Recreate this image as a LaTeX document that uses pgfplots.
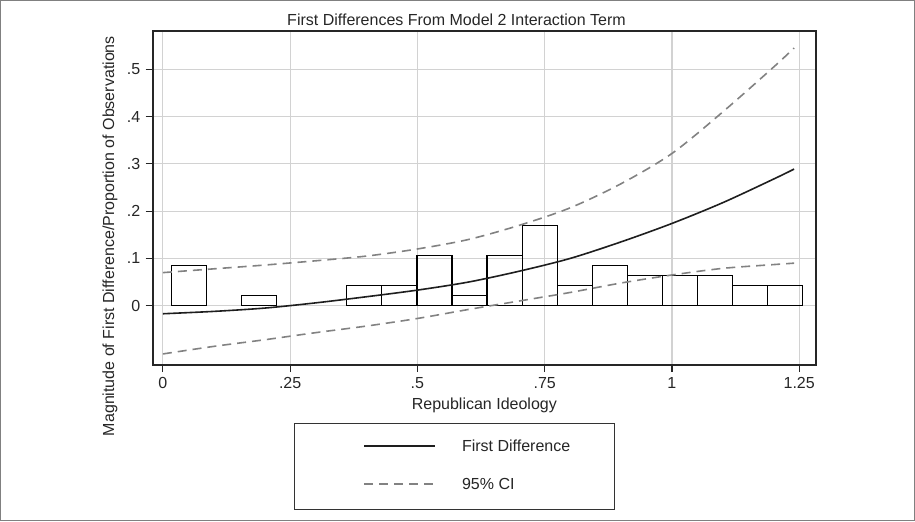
\documentclass[border=0pt]{standalone}
\usepackage{pgfplots}
\pgfplotsset{compat=1.18}
\usepackage{fontspec}
\setmainfont{Liberation Sans}
\definecolor{gridgray}{RGB}{210,210,210}
\definecolor{dashgray}{RGB}{130,130,130}
\definecolor{linedark}{RGB}{30,30,30}
\newcommand{\ef}{\fontsize{8}{9.6}\selectfont}
\begin{document}
\begin{tikzpicture}
\useasboundingbox (0,0) rectangle (457.5pt,260.5pt);
\draw[gray, line width=0.5pt] (0.25pt,0.25pt) rectangle (457.25pt,260.25pt);
\begin{axis}[
  at={(76.35pt,78pt)}, anchor=south west,
  scale only axis, width=331.65pt, height=167pt,
  xmin=-0.020, xmax=1.283, ymin=-0.1254, ymax=0.581,
  axis line style={line width=0.9pt, black!85},
  xtick={0,0.25,0.5,0.75,1,1.25},
  xticklabels={0,.25,.5,.75,1,1.25},
  ytick={0,0.1,0.2,0.3,0.4,0.5},
  yticklabels={0,.1,.2,.3,.4,.5},
  tick align=outside, tick pos=left,
  major tick length=3.5pt,
  tick style={black!85, line width=0.6pt},
  grid=major,
  major grid style={gridgray, line width=0.6pt},
  tick label style={font=\ef, text=black!85},
  xticklabel style={inner sep=2.5pt},
  yticklabel style={inner sep=2.5pt},
  title={First Differences From Model 2 Interaction Term},
  title style={font=\ef, text=black!85, at={(axis description cs:0.458,1.018)}, anchor=base, yshift=-6.5pt},
  xlabel={Republican Ideology},
  xlabel style={font=\ef, text=black!85, at={(axis description cs:0.5,-0.1347)}, anchor=base},
  ylabel={Magnitude of First Difference/Proportion of Observations},
  ylabel style={font=\ef, text=black!85, at={(axis description cs:-0.0644,0.386)}, anchor=center},
  legend style={at={(axis description cs:0.213,-0.1737)}, anchor=north west,
    draw=black!80, line width=0.7pt, inner xsep=22pt, inner ysep=8pt,
    font=\ef, text=black!85, row sep=11pt, column sep=13.3pt,
    nodes={inner sep=0pt, text height=6pt, text depth=2pt, anchor=base west}},
  legend cell align=left,
  legend image code/.code={\path (0pt,0pt); \draw[#1] (12.3pt,2.9pt) -- (47.6pt,2.9pt);},
]
% histogram (proportion of observations)
\addplot[ybar interval, draw=black, fill=none, line width=0.6pt, forget plot] coordinates {
(0.0167,0.0851) (0.0856,0.0851)};
\addplot[ybar interval, draw=black, fill=none, line width=0.6pt, forget plot] coordinates {
(0.1545,0.0213) (0.2234,0.0213)};
\addplot[ybar interval, draw=black, fill=none, line width=0.6pt, forget plot] coordinates {
(0.3612,0.0426) (0.4301,0.0426) (0.4990,0.1064) (0.5679,0.0213) (0.6368,0.1064)
(0.7057,0.1702) (0.7746,0.0426) (0.8435,0.0851) (0.9124,0.0638) (0.9813,0.0638)
(1.0502,0.0638) (1.1191,0.0426) (1.1880,0.0426) (1.2569,0.0426)};
% first difference
\addplot[linedark, line width=0.8pt, smooth] coordinates {
(0,-0.017) (0.1,-0.012) (0.2,-0.005) (0.3,0.006) (0.4,0.019) (0.5,0.033)
(0.6,0.050) (0.7,0.073) (0.8,0.100) (0.9,0.135) (1.0,0.174) (1.1,0.218)
(1.2,0.268) (1.24,0.289)};
\addlegendentry{First Difference}
% upper CI
\addplot[dashgray, line width=0.8pt, dash pattern=on 4.5pt off 3pt, smooth] coordinates {
(0,0.070) (0.1,0.078) (0.2,0.086) (0.3,0.095) (0.4,0.105) (0.5,0.120)
(0.6,0.140) (0.7,0.170) (0.8,0.207) (0.9,0.258) (1.0,0.322) (1.1,0.410)
(1.2,0.505) (1.24,0.545)};
\addlegendentry{95\% CI}
% lower CI
\addplot[dashgray, line width=0.8pt, dash pattern=on 4.5pt off 3pt, smooth, forget plot] coordinates {
(0,-0.102) (0.1,-0.086) (0.2,-0.072) (0.3,-0.057) (0.4,-0.043) (0.5,-0.027)
(0.6,-0.008) (0.7,0.010) (0.8,0.028) (0.9,0.048) (1.0,0.065) (1.1,0.079)
(1.2,0.087) (1.24,0.090)};
\end{axis}
\end{tikzpicture}
\end{document}
